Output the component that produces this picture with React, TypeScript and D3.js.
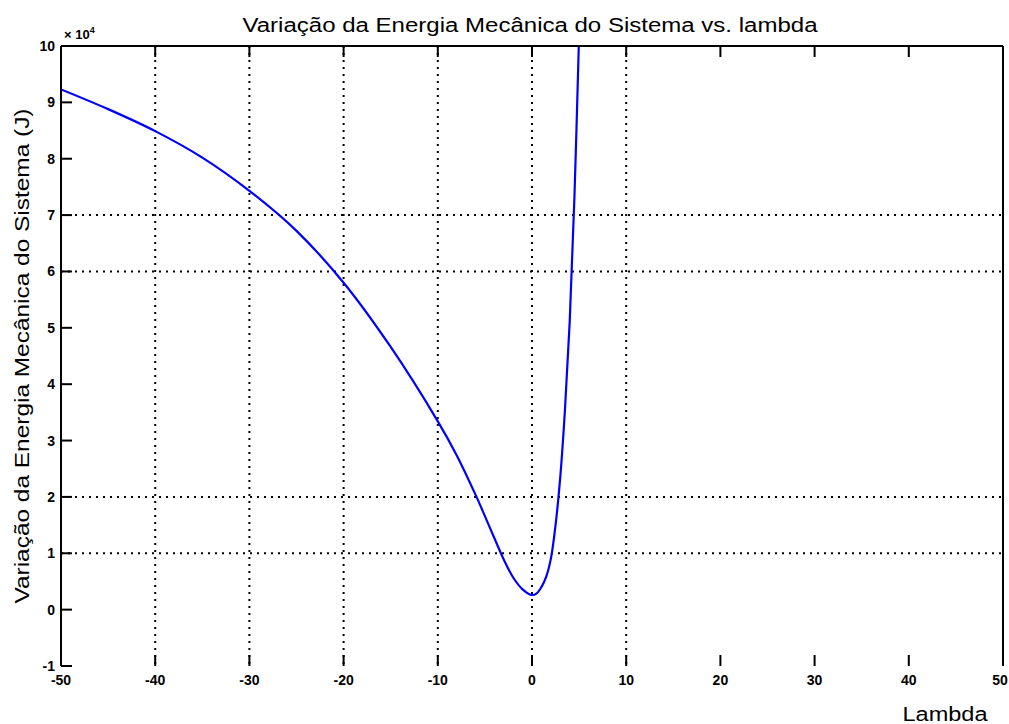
import React from 'react'
import * as d3 from 'd3'

// lambda values and energy variation (x 10^4 J)
const lambdas = [-50, -45, -40, -35, -30, -25, -20, -15, -10, -8, -6, -5, -4, -3, -2, -1, 0, 0.5, 1, 1.5, 2, 2.5, 3, 3.5, 4, 4.5, 5]
const energy = [9.23, 8.88, 8.49, 8.02, 7.43, 6.72, 5.8, 4.66, 3.34, 2.74, 2.04, 1.66, 1.27, 0.89, 0.57, 0.36, 0.26, 0.29, 0.4, 0.58, 0.9, 1.5, 2.35, 3.55, 5.1, 7.3, 10.2]

const xTicks = [-50, -40, -30, -20, -10, 0, 10, 20, 30, 40, 50]
const yTicks = [-1, 0, 1, 2, 3, 4, 5, 6, 7, 8, 9, 10]
// grid lines that actually show in the original render
const xGrid = [-40, -30, -20, -10, 0, 10]
const yGrid = [1, 2, 6, 7]

const W = 1009, H = 724
const margin = { top: 46, left: 61, right: 6, bottom: 58 }
const font = '"Liberation Sans", Arial, sans-serif'

export default function App() {
    const x = d3.scaleLinear().domain([-50, 50]).range([margin.left, W - margin.right])
    const y = d3.scaleLinear().domain([-1, 10]).range([H - margin.bottom, margin.top])

    const data = lambdas.map((l, i) => ({ l, e: energy[i] }))
    const line = d3.line<{ l: number, e: number }>()
        .x(d => x(d.l))
        .y(d => y(d.e))
        .curve(d3.curveCatmullRom)

    const x0 = x(-50), x1 = x(50), yTop = y(10), yBot = y(-1)
    const tick = 11

    return (
        <div style={{ position: 'absolute', left: 0, top: 0 }}>
            <svg width={W} height={H} style={{ display: 'block', background: '#fff' }}>
                <defs>
                    <clipPath id="plot">
                        <rect x={x0} y={yTop} width={x1 - x0} height={yBot - yTop} />
                    </clipPath>
                </defs>

                {/* dotted grid */}
                {xGrid.map(v => (
                    <line key={'gx' + v} x1={x(v)} x2={x(v)} y1={yTop} y2={yBot}
                        stroke="#000" strokeWidth={2} strokeDasharray="2 5" />
                ))}
                {yGrid.map(v => (
                    <line key={'gy' + v} x1={x0} x2={x1} y1={y(v)} y2={y(v)}
                        stroke="#000" strokeWidth={2} strokeDasharray="2 5" />
                ))}

                {/* curve */}
                <path d={line(data) || ''} fill="none" stroke="#0000ff" strokeWidth={2.2} clipPath="url(#plot)" />

                {/* axes box (no bottom line in the original) */}
                <line x1={x0} x2={x1} y1={yTop} y2={yTop} stroke="#000" strokeWidth={2} />
                <line x1={x0} x2={x0} y1={yTop} y2={yBot} stroke="#000" strokeWidth={2} />
                <line x1={x1} x2={x1} y1={yTop} y2={yBot} stroke="#000" strokeWidth={2} />

                {/* x ticks */}
                {xTicks.map(v => (
                    <g key={'xt' + v}>
                        <line x1={x(v)} x2={x(v)} y1={yBot} y2={yBot - tick} stroke="#000" strokeWidth={2} />
                        <line x1={x(v)} x2={x(v)} y1={yTop} y2={yTop + tick} stroke="#000" strokeWidth={2} />
                        <text x={v === 50 ? x(v) - 3 : x(v)} y={yBot + 19} textAnchor="middle" fontFamily={font}
                            fontSize={14} fontWeight="bold">{v}</text>
                    </g>
                ))}

                {/* y ticks */}
                {yTicks.map(v => (
                    <g key={'yt' + v}>
                        <line x1={x0} x2={x0 + tick} y1={y(v)} y2={y(v)} stroke="#000" strokeWidth={2} />
                        <text x={x0 - 6} y={y(v) + 5} textAnchor="end" fontFamily={font}
                            fontSize={14} fontWeight="bold">{v}</text>
                    </g>
                ))}

                {/* exponent */}
                <text x={x0 + 3} y={yTop - 7} fontFamily={font} fontSize={13} fontWeight="bold">
                    × 10<tspan dy={-6} fontSize={9}>4</tspan>
                </text>

                {/* title */}
                <text x={530} y={32} textAnchor="middle" fontFamily={font} fontSize={20}
                    textLength={575} lengthAdjust="spacingAndGlyphs">
                    Variação da Energia Mecânica do Sistema vs. lambda
                </text>

                {/* axis labels */}
                <text x={945} y={721} textAnchor="middle" fontFamily={font} fontSize={20}
                    textLength={85} lengthAdjust="spacingAndGlyphs">Lambda</text>
                <text transform="translate(29, 356) rotate(-90)" textAnchor="middle"
                    fontFamily={font} fontSize={20} textLength={495} lengthAdjust="spacingAndGlyphs">
                    Variação da Energia Mecânica do Sistema (J)
                </text>
            </svg>
        </div>
    )
}
